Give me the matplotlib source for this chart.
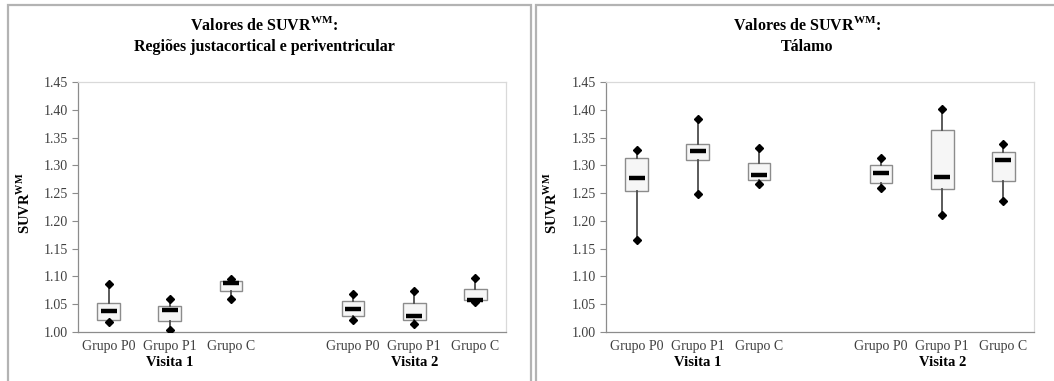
import matplotlib.pyplot as plt
from matplotlib.patches import Rectangle

plt.rcParams['font.family'] = ['Liberation Serif', 'DejaVu Serif']
plt.rcParams['mathtext.fontset'] = 'custom'
plt.rcParams['mathtext.rm'] = 'Liberation Serif'
plt.rcParams['mathtext.bf'] = 'Liberation Serif:bold'

groups = ["Grupo P0", "Grupo P1", "Grupo C", "Grupo P0", "Grupo P1", "Grupo C"]
positions = [0, 1, 2, 4, 5, 6]
visits = ["Visita 1", "Visita 2"]
y_ticks = [1.00, 1.05, 1.10, 1.15, 1.20, 1.25, 1.30, 1.35, 1.40, 1.45]

# Regiões justacortical e periventricular
jp_min = [1.018, 1.004, 1.060, 1.022, 1.014, 1.054]
jp_q1 = [1.022, 1.020, 1.074, 1.028, 1.022, 1.057]
jp_med = [1.038, 1.040, 1.088, 1.041, 1.029, 1.058]
jp_q3 = [1.052, 1.047, 1.091, 1.055, 1.052, 1.077]
jp_max = [1.086, 1.059, 1.095, 1.068, 1.073, 1.098]

# Tálamo
th_min = [1.166, 1.249, 1.267, 1.260, 1.211, 1.236]
th_q1 = [1.253, 1.309, 1.274, 1.269, 1.258, 1.272]
th_med = [1.278, 1.326, 1.283, 1.287, 1.279, 1.309]
th_q3 = [1.313, 1.338, 1.305, 1.300, 1.364, 1.324]
th_max = [1.327, 1.383, 1.331, 1.313, 1.402, 1.339]

W, H = 1054, 381
fig = plt.figure(figsize=(W / 100, H / 100), dpi=100)

# panel frames (Excel chart borders)
for x0, x1 in [(8, 531), (536, 1060)]:
    fig.add_artist(Rectangle((x0 / W, -0.1), (x1 - x0) / W, (H - 5) / H + 0.1,
                             transform=fig.transFigure, fill=False,
                             edgecolor="#b3b3b3", lw=1.6))


def draw_panel(left, title, vmin, q1, med, q3, vmax, title_x, ylab_x):
    ax = fig.add_axes([left / W, (H - 332) / H, 428 / W, 250 / H])
    stats = []
    for i in range(len(positions)):
        stats.append(dict(med=med[i], q1=q1[i], q3=q3[i],
                          whislo=vmin[i], whishi=vmax[i], fliers=[]))
    ax.bxp(stats, positions=positions, widths=0.37, patch_artist=True,
           showcaps=False, showfliers=False,
           boxprops=dict(facecolor="#f6f6f6", edgecolor="#8c8c8c", lw=1.0),
           whiskerprops=dict(color="#4d4d4d", lw=1.3),
           medianprops=dict(visible=False), zorder=2)
    ax.plot(positions, med, ls="none", marker="_", ms=11, mew=3.2,
            color="black", zorder=4)
    ax.plot(positions, vmin, ls="none", marker="D", ms=4.2,
            color="black", zorder=4)
    ax.plot(positions, vmax, ls="none", marker="D", ms=4.2,
            color="black", zorder=4)

    ax.set_xlim(-0.5, 6.5)
    ax.set_ylim(1.00, 1.45)
    ax.set_yticks(y_ticks)
    ax.set_yticklabels([f"{v:.2f}" for v in y_ticks])
    ax.set_xticks(positions)
    ax.set_xticklabels(groups)
    ax.tick_params(axis="x", length=0, pad=6, labelsize=10, labelcolor="#404040")
    ax.tick_params(axis="y", length=4, width=0.8, color="#8c8c8c", pad=3,
                   labelsize=10, labelcolor="#404040")
    for s in ["top", "right"]:
        ax.spines[s].set_color("#d9d9d9")
    for s in ["left", "bottom"]:
        ax.spines[s].set_color("#8c8c8c")
    for s in ax.spines.values():
        s.set_linewidth(0.9)

    for k, v in enumerate(visits):
        ax.text(1 + 4 * k, -0.122, v, transform=ax.get_xaxis_transform(),
                ha="center", va="center", fontsize=10.5, fontweight="bold")

    fig.text(title_x / W, 1 - 25 / H, r"Valores de SUVR$^{\mathbf{WM}}$:",
             ha="center", va="center", fontsize=11.5, fontweight="bold")
    fig.text(title_x / W, 1 - 47 / H, title,
             ha="center", va="center", fontsize=11.5, fontweight="bold")
    fig.text(ylab_x / W, 1 - 203 / H, r"SUVR$^{\mathbf{WM}}$", rotation=90,
             ha="center", va="center", fontsize=10.5, fontweight="bold")
    return ax


draw_panel(78, "Regiões justacortical e periventricular",
           jp_min, jp_q1, jp_med, jp_q3, jp_max, 264, 24)
draw_panel(606, "Tálamo",
           th_min, th_q1, th_med, th_q3, th_max, 807, 551)

fig.savefig("out.png", dpi=100, facecolor="white")
